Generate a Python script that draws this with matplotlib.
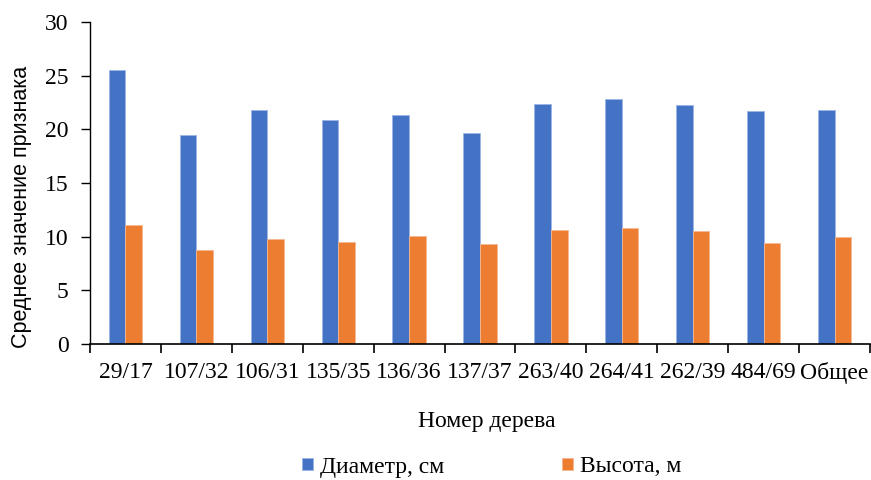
import matplotlib
matplotlib.use("Agg")
import matplotlib.pyplot as plt
import numpy as np

categories = ["29/17", "107/32", "106/31", "135/35", "136/36", "137/37",
              "263/40", "264/41", "262/39", "484/69", "Общее"]
diameter = [25.5, 19.5, 21.8, 20.9, 21.3, 19.7, 22.4, 22.8, 22.3, 21.7, 21.8]
height = [11.1, 8.8, 9.8, 9.5, 10.1, 9.3, 10.6, 10.8, 10.5, 9.4, 10.0]
series_names = ["Диаметр, см", "Высота, м"]
y_ticks = [0, 5, 10, 15, 20, 25, 30]

plt.rcParams['font.family'] = ['Liberation Serif', 'DejaVu Serif']

fig = plt.figure(figsize=(8.71, 4.8), dpi=100)
ax = fig.add_axes([90/871, (480-344)/480, (870-90)/871, (344-22)/480])

x = np.arange(len(categories))
w = 0.235
ax.bar(x - w/2, diameter, w, color="#4472C4", label=series_names[0],
       edgecolor="#9db5e3", linewidth=0.6)
ax.bar(x + w/2, height, w, color="#ED7D31", label=series_names[1],
       edgecolor="#f5b890", linewidth=0.6)

ax.set_xlim(-0.5, len(categories) - 0.5)
ax.set_ylim(0, 30)
ax.set_yticks(y_ticks)
ax.set_xticks(np.arange(len(categories) + 1) - 0.5, minor=False)
ax.set_xticklabels([])
ax.set_xticks(x, minor=True)
ax.set_xticklabels(categories, minor=True, fontsize=17)
ax.tick_params(axis='x', which='minor', length=0, pad=13)
ax.tick_params(axis='x', which='major', length=6.5, width=1.2, direction='out')
ax.tick_params(axis='y', length=6.5, width=1.0, direction='out', pad=9, labelsize=17)

for s in ["top", "right"]:
    ax.spines[s].set_visible(False)
ax.spines["left"].set_linewidth(1.0)
ax.spines["bottom"].set_linewidth(1.2)

ax.set_xlabel("Номер дерева", fontsize=17, labelpad=26)
ax.xaxis.set_label_coords((487 - 90) / 780, -(422 - 344) / 322 + 0.0)
ax.xaxis.label.set_va("center")

fig.text(22/871, 1 - 207/480, "Среднее значение признака", rotation=90,
         fontsize=15.5, family=['Liberation Sans', 'DejaVu Sans'],
         ha="center", va="center")

fig.legend(loc="center", bbox_to_anchor=(492/871, 1 - 467/480), ncol=2, frameon=False,
           fontsize=17, handlelength=0.45, handleheight=0.45, handletextpad=0.3,
           columnspacing=5.0, borderpad=0, borderaxespad=0)

fig.savefig("out.png", dpi=100)
